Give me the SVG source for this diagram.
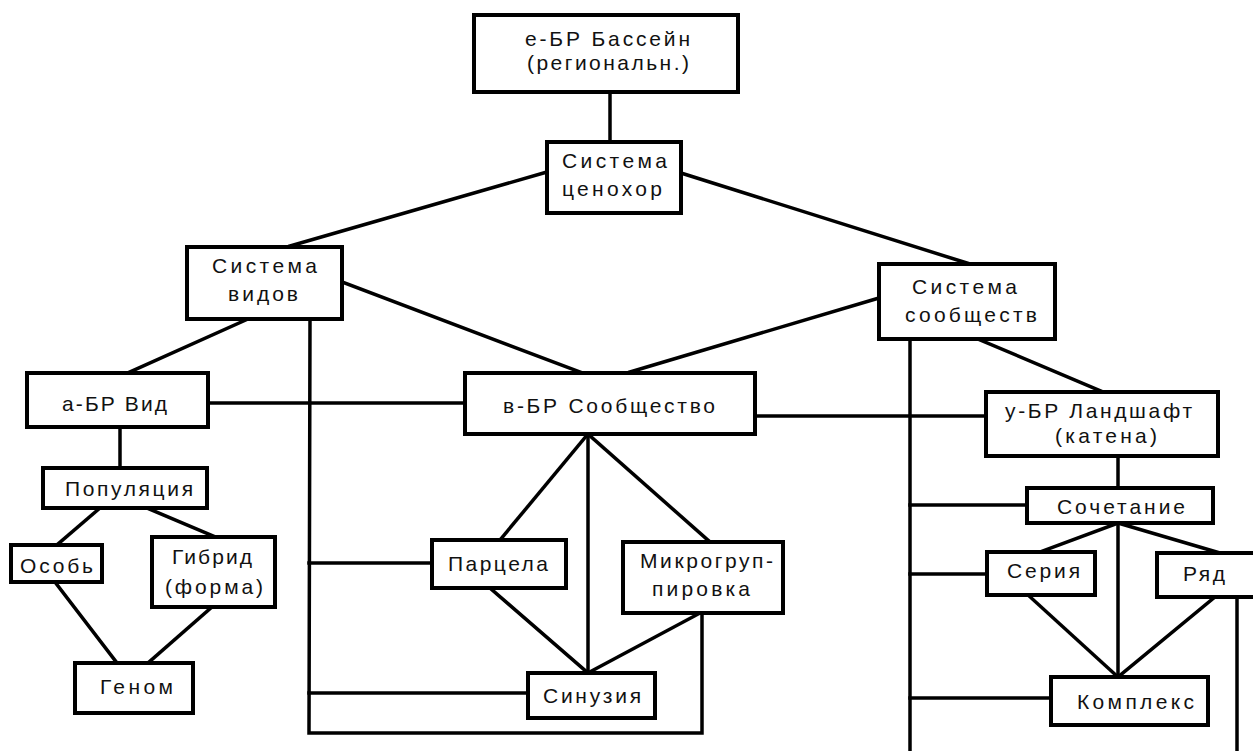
<svg xmlns="http://www.w3.org/2000/svg" width="1253" height="751" viewBox="0 0 1253 751">
<style>
.box{fill:#fff;stroke:#000;stroke-width:4}
.ln{stroke:#000;stroke-width:3.5;fill:none;stroke-linecap:square}
.t{font-family:"Liberation Sans",Arial,sans-serif;font-size:21px;fill:#111;lengthAdjust:spacing}
</style>
<rect width="1253" height="751" fill="#fff"/>
<g id="connectors">
<line class="ln" x1="610" y1="92" x2="610" y2="142"/>
<line class="ln" x1="547" y1="172" x2="290" y2="246"/>
<line class="ln" x1="681" y1="173" x2="970" y2="264"/>
<line class="ln" x1="342" y1="282" x2="580" y2="372"/>
<line class="ln" x1="879" y1="298" x2="630" y2="372"/>
<line class="ln" x1="248" y1="319" x2="130" y2="372"/>
<line class="ln" x1="978" y1="339" x2="1103" y2="392"/>
<polyline class="ln" points="310,319 309,733 702,733 702,613"/>
<line class="ln" x1="208" y1="403" x2="465" y2="403"/>
<line class="ln" x1="755" y1="416" x2="986" y2="416"/>
<line class="ln" x1="910" y1="339" x2="910" y2="755"/>
<line class="ln" x1="120" y1="427" x2="120" y2="468"/>
<line class="ln" x1="100" y1="508" x2="58" y2="544"/>
<line class="ln" x1="147" y1="508" x2="213" y2="536"/>
<line class="ln" x1="55" y1="582" x2="117" y2="663"/>
<line class="ln" x1="212" y1="607" x2="148" y2="663"/>
<line class="ln" x1="309" y1="563" x2="432" y2="563"/>
<line class="ln" x1="309" y1="693" x2="528" y2="693"/>
<line class="ln" x1="588" y1="434" x2="500" y2="540"/>
<line class="ln" x1="588" y1="434" x2="588" y2="673"/>
<line class="ln" x1="588" y1="434" x2="710" y2="542"/>
<line class="ln" x1="490" y1="588" x2="588" y2="673"/>
<line class="ln" x1="700" y1="613" x2="588" y2="673"/>
<line class="ln" x1="1118" y1="456" x2="1118" y2="488"/>
<line class="ln" x1="910" y1="505" x2="1027" y2="505"/>
<line class="ln" x1="910" y1="574" x2="987" y2="574"/>
<line class="ln" x1="910" y1="698" x2="1051" y2="698"/>
<line class="ln" x1="1118" y1="523" x2="1040" y2="552"/>
<line class="ln" x1="1118" y1="523" x2="1220" y2="553"/>
<line class="ln" x1="1118" y1="523" x2="1118" y2="677"/>
<line class="ln" x1="1028" y1="595" x2="1118" y2="677"/>
<line class="ln" x1="1215" y1="597" x2="1118" y2="677"/>
<line class="ln" x1="1237" y1="597" x2="1237" y2="755"/>
</g>
<g id="n-bassein">
<rect class="box" x="474" y="15" width="264" height="77"/>
<text class="t" x="525" y="46" textLength="165">е-БР Бассейн</text>
<text class="t" x="527" y="70" textLength="162">(региональн.)</text>
</g>
<g id="n-cenohor">
<rect class="box" x="547" y="142" width="134" height="71"/>
<text class="t" x="562" y="168" textLength="105">Система</text>
<text class="t" x="562" y="196" textLength="100">ценохор</text>
</g>
<g id="n-vidov">
<rect class="box" x="187" y="247" width="155" height="72"/>
<text class="t" x="212" y="273" textLength="105">Система</text>
<text class="t" x="228" y="301" textLength="70">видов</text>
</g>
<g id="n-soobshchestv">
<rect class="box" x="879" y="264" width="176" height="75"/>
<text class="t" x="912" y="294" textLength="105">Система</text>
<text class="t" x="905" y="322" textLength="132">сообществ</text>
</g>
<g id="n-vid">
<rect class="box" x="27" y="373" width="181" height="54"/>
<text class="t" x="62" y="411" textLength="105">а-БР Вид</text>
</g>
<g id="n-soobshchestvo">
<rect class="box" x="465" y="373" width="290" height="61"/>
<text class="t" x="503" y="413" textLength="212">в-БР Сообщество</text>
</g>
<g id="n-landshaft">
<rect class="box" x="986" y="392" width="232" height="64"/>
<text class="t" x="1005" y="418" textLength="187">у-БР Ландшафт</text>
<text class="t" x="1055" y="443" textLength="102">(катена)</text>
</g>
<g id="n-populyaciya">
<rect class="box" x="43" y="468" width="164" height="40"/>
<text class="t" x="65" y="496" textLength="128">Популяция</text>
</g>
<g id="n-osob">
<rect class="box" x="11" y="545" width="91" height="37"/>
<text class="t" x="20" y="573" textLength="73">Особь</text>
</g>
<g id="n-gibrid">
<rect class="box" x="152" y="537" width="123" height="70"/>
<text class="t" x="172" y="564" textLength="80">Гибрид</text>
<text class="t" x="165" y="594" textLength="98">(форма)</text>
</g>
<g id="n-genom">
<rect class="box" x="75" y="663" width="118" height="50"/>
<text class="t" x="100" y="694" textLength="73">Геном</text>
</g>
<g id="n-parcela">
<rect class="box" x="432" y="540" width="134" height="48"/>
<text class="t" x="448" y="571" textLength="100">Парцела</text>
</g>
<g id="n-mikrogruppirovka">
<rect class="box" x="623" y="542" width="160" height="71"/>
<text class="t" x="640" y="568" textLength="133">Микрогруп-</text>
<text class="t" x="652" y="596" textLength="98">пировка</text>
</g>
<g id="n-sinuziya">
<rect class="box" x="528" y="673" width="127" height="45"/>
<text class="t" x="543" y="703" textLength="98">Синузия</text>
</g>
<g id="n-sochetanie">
<rect class="box" x="1027" y="488" width="186" height="35"/>
<text class="t" x="1057" y="514" textLength="128">Сочетание</text>
</g>
<g id="n-seriya">
<rect class="box" x="987" y="552" width="108" height="43"/>
<text class="t" x="1007" y="578" textLength="73">Серия</text>
</g>
<g id="n-ryad">
<rect class="box" x="1157" y="553" width="110" height="44"/>
<text class="t" x="1183" y="581" textLength="42">Ряд</text>
</g>
<g id="n-kompleks">
<rect class="box" x="1051" y="677" width="157" height="48"/>
<text class="t" x="1077" y="709" textLength="117">Комплекс</text>
</g>
</svg>
